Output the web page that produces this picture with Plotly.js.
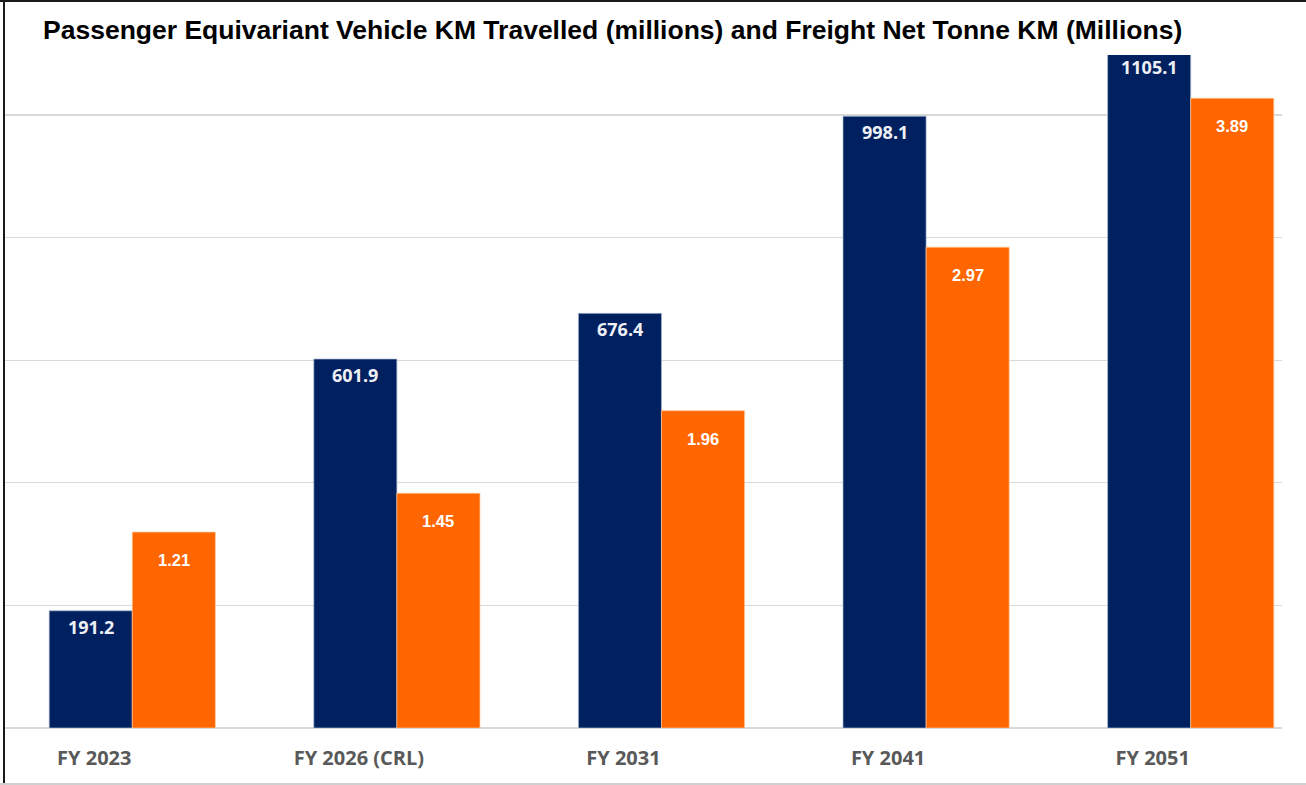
<!DOCTYPE html>
<html><head><meta charset="utf-8">
<script src="https://cdn.plot.ly/plotly-3.0.1.min.js"></script>
<style>
body{margin:0;background:#fff;}
#wrap{position:relative;width:1306px;height:785px;overflow:hidden;}
#chart{width:1306px;height:785px;}
.b{position:absolute;pointer-events:none;}
</style>
</head><body>
<div id="wrap"><div id="chart"></div>
<div class="b" style="left:0;top:0;width:1306px;height:2px;background:#1a1a1a"></div>
<div class="b" style="left:3px;top:0;width:2px;height:785px;background:#1a1a1a"></div>
<div class="b" style="left:0;top:783px;width:1306px;height:2px;background:#d0d0d0"></div>
</div>
<script>
const categories = ['FY 2023', 'FY 2026 (CRL)', 'FY 2031', 'FY 2041', 'FY 2051'];
const passengerVKT = [191.2, 601.9, 676.4, 998.1, 1105.1];
const freightNTK = [1.21, 1.45, 1.96, 2.97, 3.89];
const seriesNames = ['Passenger Equivariant Vehicle KM Travelled (millions)', 'Freight Net Tonne KM (Millions)'];
const titleText = 'Passenger Equivariant Vehicle KM Travelled (millions) and Freight Net Tonne KM (Millions)';

const NAVY = '#002060', ORANGE = '#ff6600';
const BW = 0.314;

const traces = [
  {type: 'bar', name: seriesNames[0], x: categories, y: passengerVKT, yaxis: 'y',
   width: BW, offset: -BW, marker: {color: NAVY, line: {width: 1, color: 'rgba(170,185,210,0.7)'}},
   hoverinfo: 'x+y'},
  {type: 'bar', name: seriesNames[1], x: categories, y: freightNTK, yaxis: 'y2',
   width: BW, offset: 0, marker: {color: ORANGE, line: {width: 1, color: 'rgba(255,200,150,0.7)'}},
   hoverinfo: 'x+y'}
];

const annotations = [];
categories.forEach((c, i) => {
  annotations.push({x: c, y: passengerVKT[i], xref: 'x', yref: 'y', text: passengerVKT[i].toFixed(1),
    showarrow: false, xshift: -41.5, yshift: -16, yanchor: 'middle', xanchor: 'center',
    font: {family: 'Open Sans, sans-serif', size: 18, weight: 'bold', color: '#eef0f5'}});
  annotations.push({x: c, y: freightNTK[i], xref: 'x', yref: 'y2', text: freightNTK[i].toFixed(2),
    showarrow: false, xshift: 41.5, yshift: -28, yanchor: 'middle', xanchor: 'center',
    font: {family: 'Liberation Sans, Arial, sans-serif', size: 16.5, weight: 'bold', color: '#ffffff'}});
});

const layout = {
  width: 1306, height: 785,
  margin: {l: 5, r: 24, t: 0, b: 57, pad: 0},
  paper_bgcolor: '#ffffff', plot_bgcolor: '#ffffff',
  showlegend: false,
  barmode: 'overlay',
  title: {text: '<b>' + titleText + '</b>', xref: 'container', yref: 'container',
    x: 43/1306, xanchor: 'left', y: 1 - 30/785, yanchor: 'middle',
    font: {family: 'Liberation Sans, Arial, sans-serif', size: 26.5, color: '#000000'}},
  xaxis: {type: 'category', range: [-0.481, 4.345], showgrid: false, showline: false, zeroline: false,
    ticks: '', ticklabelshift: -38, ticklabelstandoff: 16,
    tickfont: {family: 'Open Sans, sans-serif', size: 20, weight: 'bold', color: '#595959'}},
  yaxis: {range: [0, 1187.6], dtick: 200, showgrid: true, gridcolor: '#d9d9d9', gridwidth: 1.3,
    zeroline: true, zerolinecolor: '#d9d9d9', zerolinewidth: 1.3, showticklabels: false, ticks: '', showline: false},
  yaxis2: {range: [0, 4.497], overlaying: 'y', side: 'right', showgrid: false, zeroline: false,
    showticklabels: false, ticks: '', showline: false},
  shapes: [
    {type: 'rect', xref: 'paper', yref: 'paper', x0: 0.0, x1: 0.936, y0: (728 - 55) / 728, y1: 1.0,
     fillcolor: '#ffffff', line: {width: 0}, layer: 'above'}
  ],
  annotations: annotations
};

Plotly.newPlot('chart', traces, layout, {displayModeBar: false, staticPlot: true});
</script>
</body></html>
